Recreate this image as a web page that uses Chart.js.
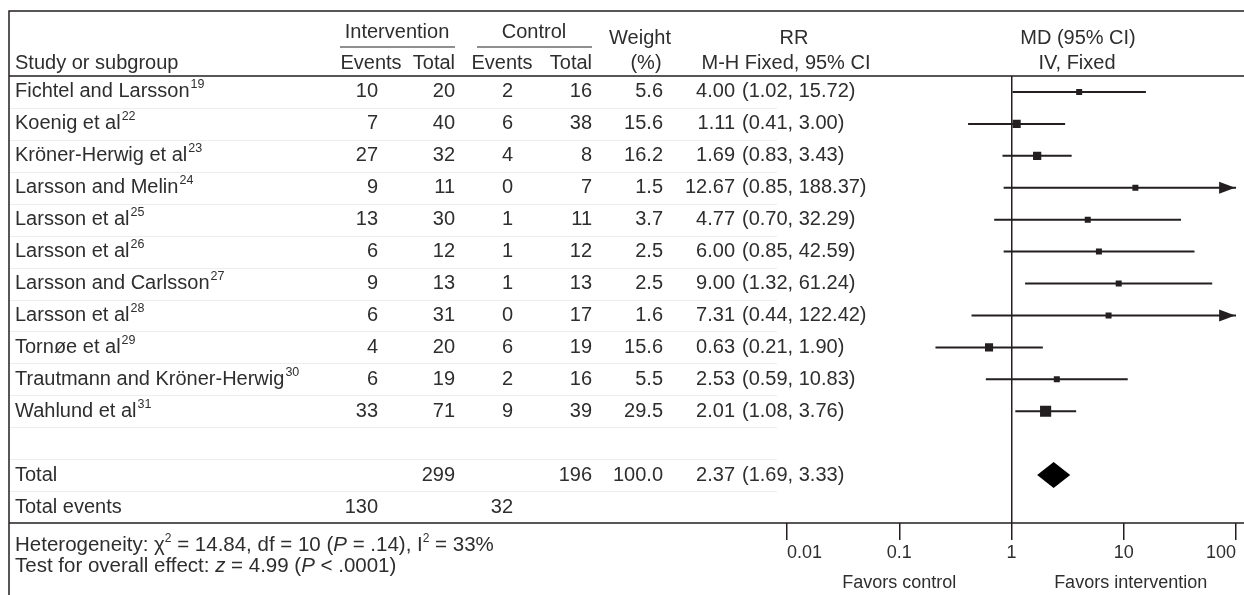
<!DOCTYPE html>
<html>
<head>
<meta charset="utf-8">
<script src="https://cdn.jsdelivr.net/npm/chart.js@4.4.1/dist/chart.umd.min.js"></script>
<style>
  html, body { margin: 0; padding: 0; background: #fff; }
  canvas { display: block; }
</style>
</head>
<body>
<canvas id="forestChart" width="1244" height="595"></canvas>
<script>
// Study rows, top to bottom
const studies = ['Fichtel and Larsson', 'Koenig et al', 'Kröner-Herwig et al', 'Larsson and Melin', 'Larsson et al',
  'Larsson et al', 'Larsson and Carlsson', 'Larsson et al', 'Tornøe et al', 'Trautmann and Kröner-Herwig', 'Wahlund et al'];
const refNumbers = ['19', '22', '23', '24', '25', '26', '27', '28', '29', '30', '31'];
const interventionEvents = [10, 7, 27, 9, 13, 6, 9, 6, 4, 6, 33];
const interventionTotals = [20, 40, 32, 11, 30, 12, 13, 31, 20, 19, 71];
const controlEvents = [2, 6, 4, 0, 1, 1, 1, 0, 6, 2, 9];
const controlTotals = [16, 38, 8, 7, 11, 12, 13, 17, 19, 16, 39];
const weights = [5.6, 15.6, 16.2, 1.5, 3.7, 2.5, 2.5, 1.6, 15.6, 5.5, 29.5];
const riskRatios = [4.00, 1.11, 1.69, 12.67, 4.77, 6.00, 9.00, 7.31, 0.63, 2.53, 2.01];
const lowerCI = [1.02, 0.41, 0.83, 0.85, 0.70, 0.85, 1.32, 0.44, 0.21, 0.59, 1.08];
const upperCI = [15.72, 3.00, 3.43, 188.37, 32.29, 42.59, 61.24, 122.42, 1.90, 10.83, 3.76];

// Pooled result: RR, lower, upper
const pooled = [2.37, 1.69, 3.33];
const totalParticipants = [299, 196];
const totalEvents = [130, 32];
const totalWeight = 100.0;

// Axis
const xTicks = [0.01, 0.1, 1, 10, 100];
const xTickLabels = ['0.01', '0.1', '1', '10', '100'];
const xMin = 0.01;
const xMax = 100;
const favorsLabels = ['Favors control', 'Favors intervention'];
const favorsAt = [0.1, 11.5];

const TOTAL_ROW = 12;
const EVENTS_ROW = 13;
const INK = '#231f20';
const TEXT = '#2e2e2e';
const BODY_FONT = '20px "Liberation Sans", Arial, sans-serif';
const STATS_SIZE = '20.5px';
const SMALL_FONT = '18px "Liberation Sans", Arial, sans-serif';
const SUP_FONT = '12.5px "Liberation Sans", Arial, sans-serif';

// CI lines, one segment per study (null breaks the line)
const ciData = [];
studies.forEach((s, i) => {
  ciData.push({ x: lowerCI[i], y: i }, { x: Math.min(upperCI[i], xMax), y: i }, { x: null, y: null });
});
const squareData = riskRatios.map((v, i) => ({ x: v, y: i }));
const squareRadius = weights.map(w => Math.max(6, 2.05 * Math.sqrt(w)) / Math.SQRT2);

const text = (ctx, str, x, y, align, font) => {
  ctx.font = font || BODY_FONT;
  ctx.textAlign = align || 'left';
  ctx.fillText(str, x, y);
};

// Draws a run of [text, style] parts
const richText = (ctx, parts, x, y) => {
  let cx = x;
  ctx.textAlign = 'left';
  parts.forEach(([str, style]) => {
    if (style === 'sup') {
      ctx.font = '12px "Liberation Sans", Arial, sans-serif';
      ctx.fillText(str, cx, y - 6);
    } else {
      ctx.font = (style === 'i' ? 'italic ' : '') + STATS_SIZE + ' "Liberation Sans", Arial, sans-serif';
      ctx.fillText(str, cx, y);
    }
    cx += ctx.measureText(str).width;
  });
};

const tablePlugin = {
  id: 'forestTable',
  afterDatasetsDraw(chart) {
    const { ctx, scales: { x, y } } = chart;
    ctx.save();
    ctx.fillStyle = INK;
    // arrows for intervals running past the axis
    studies.forEach((s, i) => {
      if (upperCI[i] <= xMax) return;
      const tip = x.getPixelForValue(xMax) - 1;
      const yy = y.getPixelForValue(i);
      ctx.beginPath();
      ctx.moveTo(tip, yy);
      ctx.lineTo(tip - 16, yy - 6);
      ctx.lineTo(tip - 16, yy + 6);
      ctx.closePath();
      ctx.fill();
    });
    // pooled diamond
    const yc = y.getPixelForValue(TOTAL_ROW);
    const half = 13;
    ctx.fillStyle = '#000';
    ctx.beginPath();
    ctx.moveTo(x.getPixelForValue(pooled[1]), yc);
    ctx.lineTo(x.getPixelForValue(pooled[0]), yc - half);
    ctx.lineTo(x.getPixelForValue(pooled[2]), yc);
    ctx.lineTo(x.getPixelForValue(pooled[0]), yc + half);
    ctx.closePath();
    ctx.fill();
    ctx.restore();
  },
  afterDraw(chart) {
    const { ctx, scales: { x, y }, chartArea, width, height } = chart;
    const left = 9;
    ctx.save();

    // faint row separators
    ctx.strokeStyle = '#ededed';
    ctx.lineWidth = 1;
    for (let i = 0; i < EVENTS_ROW; i++) {
      const yy = Math.round(y.getPixelForValue(i + 0.5)) + 0.5;
      ctx.beginPath();
      ctx.moveTo(left, yy);
      ctx.lineTo(chartArea.left - 10, yy);
      ctx.stroke();
    }

    // frame lines
    ctx.strokeStyle = INK;
    ctx.lineWidth = 1.5;
    ctx.beginPath();
    ctx.moveTo(width, 11); ctx.lineTo(left, 11); ctx.lineTo(left, height);
    ctx.moveTo(left, chartArea.top); ctx.lineTo(width, chartArea.top);
    ctx.moveTo(left, chartArea.bottom); ctx.lineTo(width, chartArea.bottom);
    ctx.stroke();
    ctx.lineWidth = 1.2;
    ctx.beginPath();
    ctx.moveTo(340, 47); ctx.lineTo(455, 47);
    ctx.moveTo(477, 47); ctx.lineTo(592, 47);
    ctx.stroke();

    ctx.fillStyle = TEXT;
    ctx.textBaseline = 'middle';

    // headers
    text(ctx, 'Intervention', 397, 32, 'center');
    text(ctx, 'Control', 534, 32, 'center');
    text(ctx, 'Weight', 640, 38, 'center');
    text(ctx, 'RR', 794, 38, 'center');
    text(ctx, 'MD (95% CI)', 1078, 38, 'center');
    text(ctx, 'Study or subgroup', 15, 63);
    text(ctx, 'Events', 371, 63, 'center');
    text(ctx, 'Total', 455, 63, 'right');
    text(ctx, 'Events', 502, 63, 'center');
    text(ctx, 'Total', 592, 63, 'right');
    text(ctx, '(%)', 646, 63, 'center');
    text(ctx, 'M-H Fixed, 95% CI', 786, 63, 'center');
    text(ctx, 'IV, Fixed', 1077, 63, 'center');

    // study rows
    studies.forEach((name, i) => {
      const yy = y.getPixelForValue(i);
      text(ctx, name, 15, yy);
      const w = ctx.measureText(name).width;
      text(ctx, refNumbers[i], 16 + w, yy - 7, 'left', SUP_FONT);
      text(ctx, String(interventionEvents[i]), 378, yy, 'right');
      text(ctx, String(interventionTotals[i]), 455, yy, 'right');
      text(ctx, String(controlEvents[i]), 513, yy, 'right');
      text(ctx, String(controlTotals[i]), 592, yy, 'right');
      text(ctx, weights[i].toFixed(1), 663, yy, 'right');
      text(ctx, riskRatios[i].toFixed(2), 735, yy, 'right');
      text(ctx, `(${lowerCI[i].toFixed(2)}, ${upperCI[i].toFixed(2)})`, 742, yy, 'left');
    });

    // totals
    const yt = y.getPixelForValue(TOTAL_ROW);
    text(ctx, 'Total', 15, yt);
    text(ctx, String(totalParticipants[0]), 455, yt, 'right');
    text(ctx, String(totalParticipants[1]), 592, yt, 'right');
    text(ctx, totalWeight.toFixed(1), 663, yt, 'right');
    text(ctx, pooled[0].toFixed(2), 735, yt, 'right');
    text(ctx, `(${pooled[1].toFixed(2)}, ${pooled[2].toFixed(2)})`, 742, yt, 'left');
    const ye = y.getPixelForValue(EVENTS_ROW);
    text(ctx, 'Total events', 15, ye);
    text(ctx, String(totalEvents[0]), 378, ye, 'right');
    text(ctx, String(totalEvents[1]), 513, ye, 'right');

    // statistics
    richText(ctx, [['Heterogeneity: ', 'n'], ['\u03c7', 'n'], ['2', 'sup'], [' = 14.84, df = 10 (', 'n'], ['P', 'i'],
      [' = .14), I', 'n'], ['2', 'sup'], [' = 33%', 'n']], 15, chartArea.bottom + 22);
    richText(ctx, [['Test for overall effect: ', 'n'], ['z', 'i'], [' = 4.99 (', 'n'], ['P', 'i'], [' < .0001)', 'n']],
      15, chartArea.bottom + 43);

    // x tick labels: first and last kept inside the axis ends
    xTicks.forEach((v, i) => {
      const px = x.getPixelForValue(v);
      const align = i === 0 ? 'left' : (i === xTicks.length - 1 ? 'right' : 'center');
      text(ctx, xTickLabels[i], px, chartArea.bottom + 30, align, SMALL_FONT);
    });
    favorsLabels.forEach((label, i) => {
      text(ctx, label, x.getPixelForValue(favorsAt[i]), chartArea.bottom + 60, 'center', SMALL_FONT);
    });

    ctx.restore();
  }
};

new Chart(document.getElementById('forestChart'), {
  type: 'scatter',
  data: {
    datasets: [
      {
        type: 'line',
        data: ciData,
        borderColor: INK,
        borderWidth: 2,
        pointRadius: 0,
        spanGaps: false,
        order: 2
      },
      {
        data: squareData,
        pointStyle: 'rect',
        pointRadius: squareRadius,
        backgroundColor: INK,
        borderColor: INK,
        borderWidth: 0,
        order: 0
      }
    ]
  },
  options: {
    responsive: false,
    animation: false,
    devicePixelRatio: 1,
    layout: { padding: { left: 787, right: 6.5, top: 76, bottom: 0 } },
    plugins: { legend: { display: false }, tooltip: { enabled: false } },
    scales: {
      x: {
        type: 'logarithmic',
        min: xMin,
        max: xMax,
        position: 'bottom',
        afterBuildTicks: scale => { scale.ticks = xTicks.map(v => ({ value: v })); },
        afterFit: scale => { scale.height = 72; scale.paddingLeft = 0; scale.paddingRight = 0; },
        ticks: { display: false },
        border: { display: false },
        grid: {
          drawOnChartArea: true,
          drawTicks: true,
          tickLength: 17,
          lineWidth: 1.5,
          tickWidth: 1.5,
          tickColor: INK,
          color: ctx => (ctx.tick && ctx.tick.value === 1 ? INK : 'rgba(0,0,0,0)')
        }
      },
      y: {
        type: 'linear',
        min: -0.5,
        max: 13.5,
        reverse: true,
        display: false
      }
    }
  },
  plugins: [tablePlugin]
});
</script>
</body>
</html>
